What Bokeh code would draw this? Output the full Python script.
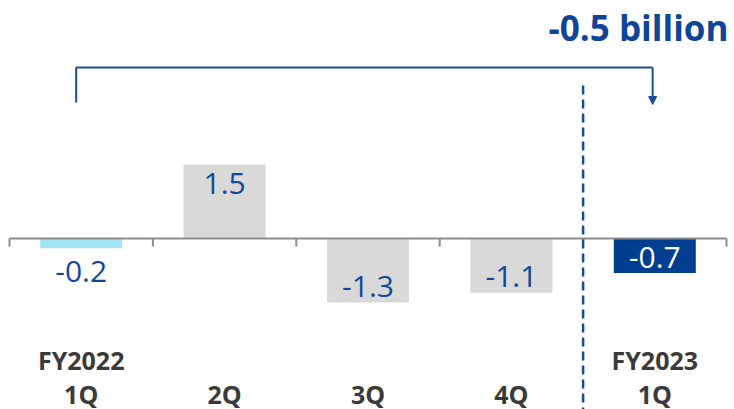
from bokeh.plotting import figure
from bokeh.models import Range1d, Arrow, NormalHead, Label
from bokeh.core.properties import value
from bokeh.embed import file_html
from bokeh.resources import INLINE

# ---- data ----
year_labels = ["FY2022", "", "", "", "FY2023"]
quarter_labels = ["1Q", "2Q", "3Q", "4Q", "1Q"]
values = [-0.2, 1.5, -1.3, -1.1, -0.7]
value_labels = ["-0.2", "1.5", "-1.3", "-1.1", "-0.7"]
change_label = "-0.5 billion"

# ---- styles ----
bar_colors = ["#A3E4F7", "#D9D9D9", "#D9D9D9", "#D9D9D9", "#003E8F"]
label_colors = ["#14479A", "#14479A", "#14479A", "#14479A", "#FFFFFF"]
BLUE = "#1A4C9C"
FONT = "Open Sans"

W, H = 734, 409
PX_PER_UNIT = 49.3
BASE_PX = 238
SLOT_PX = 143.4
LEFT_PX = 9

n = len(values)
xs = list(range(n))

x_start = -0.5 - LEFT_PX / SLOT_PX
x_end = x_start + W / SLOT_PX
y_start = -(H - BASE_PX) / PX_PER_UNIT
y_end = BASE_PX / PX_PER_UNIT


def px(d):
    return d / PX_PER_UNIT


p = figure(width=W, height=H, x_range=Range1d(x_start, x_end), y_range=Range1d(y_start, y_end),
           toolbar_location=None, output_backend="svg", x_axis_type=None, y_axis_type=None,
           min_border=0, outline_line_color=None, background_fill_color="white",
           border_fill_color="white")
p.grid.visible = False

# bars
p.vbar(x=xs, top=values, bottom=0, width=82 / SLOT_PX, fill_color=bar_colors, line_color=None)

# zero axis line and ticks
p.segment(x0=[-0.5], x1=[n - 0.5], y0=[0], y1=[0], line_color="#8C8C8C", line_width=2)
tick_x = [i - 0.5 for i in range(n + 1)]
p.segment(x0=tick_x, x1=tick_x, y0=[0] * len(tick_x), y1=[-px(8)] * len(tick_x),
          line_color="#8C8C8C", line_width=2)

# value labels
label_y = []
for v in values:
    if v > 0:
        label_y.append(v - px(19))
    elif abs(v) < 0.4:
        label_y.append(v - px(23))
    else:
        label_y.append(v + px(16))
p.text(x=xs, y=label_y, text=value_labels, text_color=label_colors,
       text_font=value(FONT), text_font_size="30px", text_align="center", text_baseline="middle")

# category labels
p.text(x=xs, y=[-px(359 - BASE_PX)] * n, text=year_labels, text_color="#3A3A3A",
       text_font=value(FONT), text_font_size="25px", text_font_style="bold",
       text_align="center", text_baseline="middle")
p.text(x=xs, y=[-px(393 - BASE_PX)] * n, text=quarter_labels, text_color="#3A3A3A",
       text_font=value(FONT), text_font_size="25px", text_font_style="bold",
       text_align="center", text_baseline="middle")

# dashed divider between fiscal years
p.segment(x0=[n - 1.5], x1=[n - 1.5], y0=[px(BASE_PX - 85)], y1=[y_start],
          line_color=BLUE, line_width=2.5, line_dash="9 5")

# bracket with arrow
bx0 = xs[0] - 0.035
bx1 = xs[-1] - 0.015
b_top = px(BASE_PX - 67)
p.line(x=[bx0, bx0, bx1], y=[px(BASE_PX - 102), b_top, b_top], line_color=BLUE, line_width=2)
p.add_layout(Arrow(end=NormalHead(size=8, fill_color=BLUE, line_color=BLUE),
                   x_start=bx1, y_start=b_top, x_end=bx1, y_end=px(BASE_PX - 104),
                   line_color=BLUE, line_width=2))

# headline
p.add_layout(Label(x=W - 6, y=H - 27, x_units="screen", y_units="screen", text=change_label,
                   text_align="right", text_baseline="middle", text_color="#0E4597",
                   text_font=FONT, text_font_size="35px", text_font_style="bold"))

open("out.html", "w").write(file_html(p, INLINE))
